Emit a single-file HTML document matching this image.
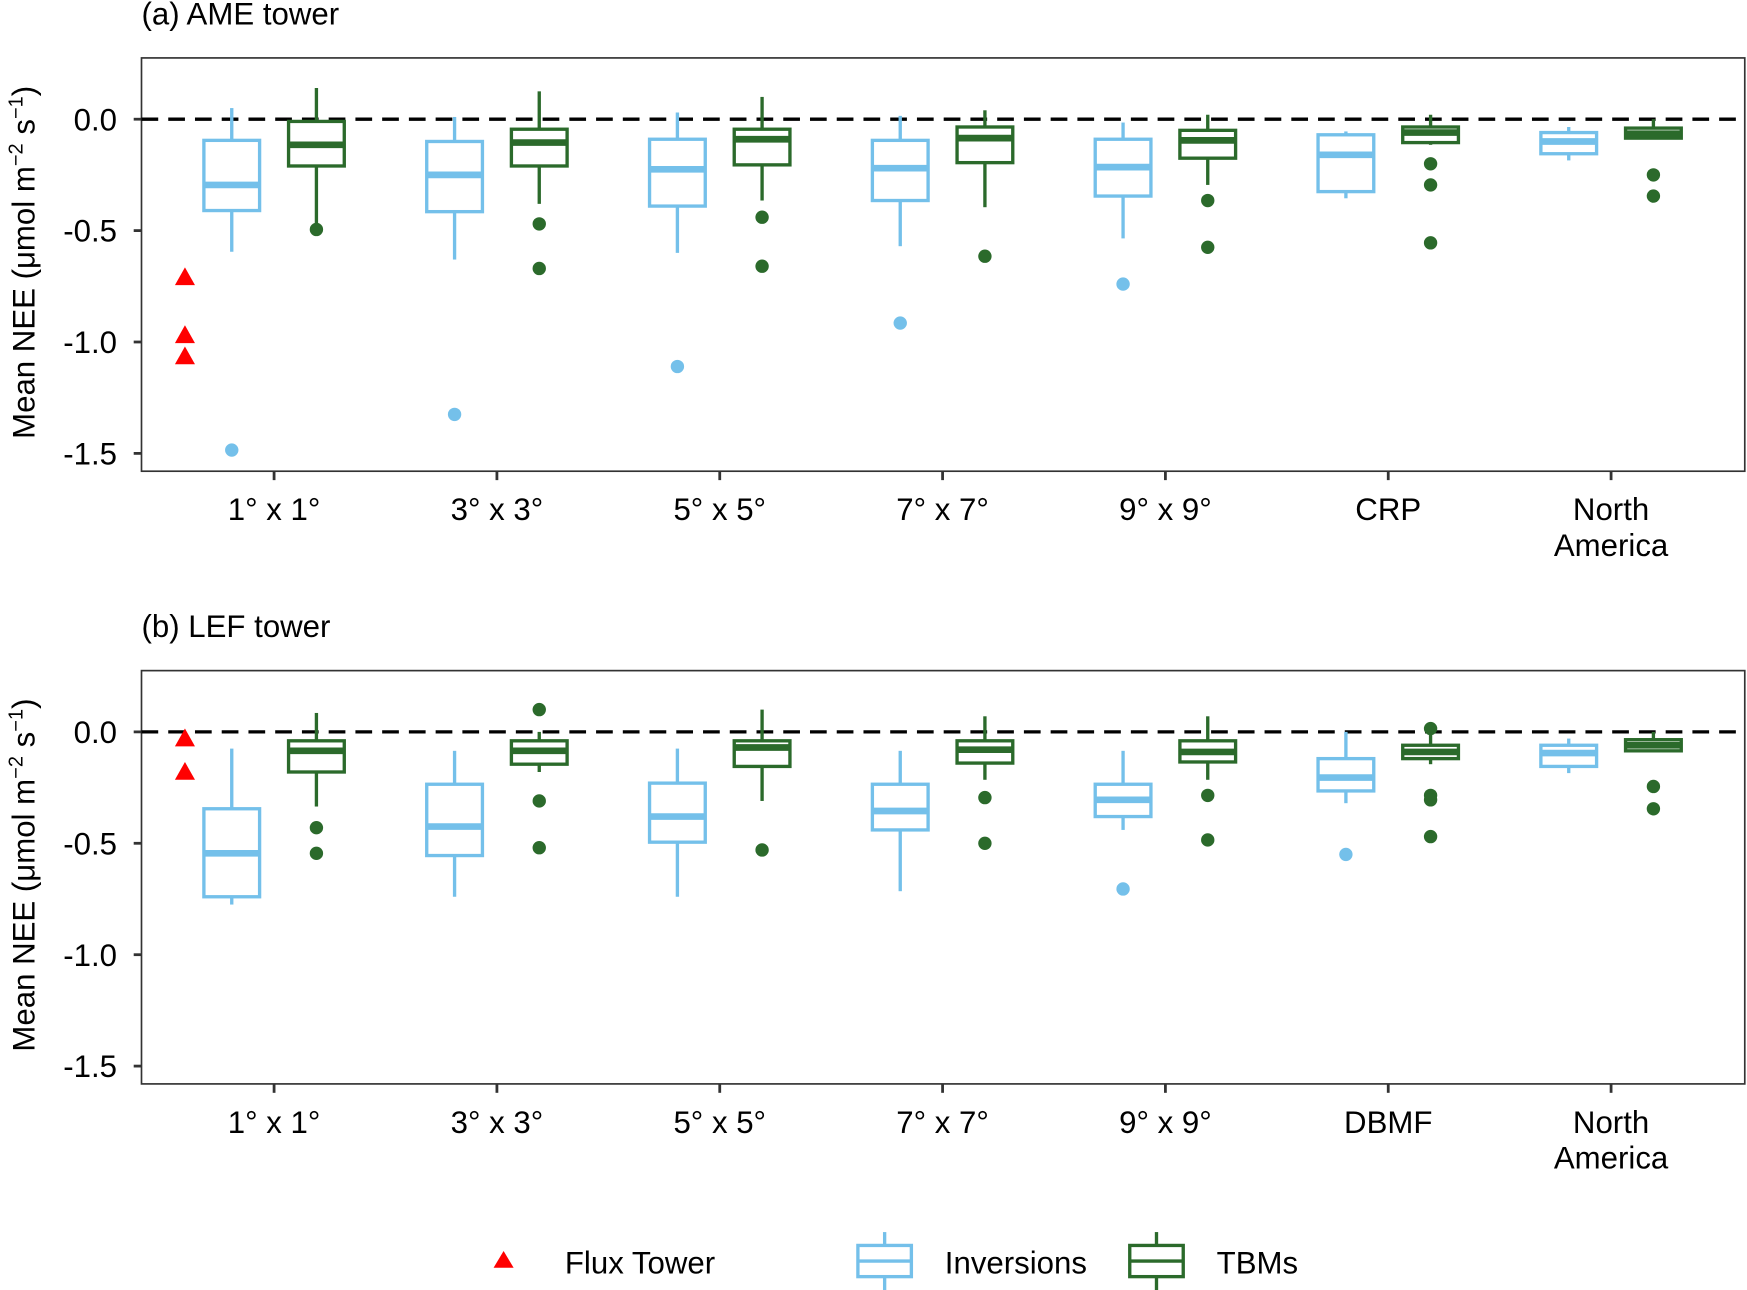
<!DOCTYPE html>
<html><head><meta charset="utf-8"><style>
html,body{margin:0;padding:0;background:#fff}
svg{display:block;font-family:"Liberation Sans",sans-serif}
</style></head><body>
<svg id="chart" width="1747" height="1290" viewBox="0 0 1568 1158" preserveAspectRatio="none" xmlns="http://www.w3.org/2000/svg">
<g id="root"></g>
<g>
  <polygon points="452,1123 443,1138 461,1138" fill="#ff0000"/>
  <text x="507" y="1143" font-size="28">Flux Tower</text>
  <g stroke="#74c0ea" stroke-width="3" fill="none">
    <line x1="794" y1="1106" x2="794" y2="1118"/><line x1="794" y1="1146" x2="794" y2="1158"/>
    <rect x="770" y="1118" width="48" height="28"/><line x1="770" y1="1132" x2="818" y2="1132"/>
  </g>
  <text x="848" y="1143" font-size="28">Inversions</text>
  <g stroke="#2b6a2b" stroke-width="3" fill="none">
    <line x1="1038" y1="1106" x2="1038" y2="1118"/><line x1="1038" y1="1146" x2="1038" y2="1158"/>
    <rect x="1014" y="1118" width="48" height="28"/><line x1="1014" y1="1132" x2="1062" y2="1132"/>
  </g>
  <text x="1092" y="1143" font-size="28">TBMs</text>
</g>
</svg>
<script>
const categoriesA = ["1° x 1°","3° x 3°","5° x 5°","7° x 7°","9° x 9°","CRP","North America"];
const categoriesB = ["1° x 1°","3° x 3°","5° x 5°","7° x 7°","9° x 9°","DBMF","North America"];
const yTicks = [0.0,-0.5,-1.0,-1.5];
const yTickLabels = ["0.0","-0.5","-1.0","-1.5"];
// [whiskerLow, q1, median, q3, whiskerHigh]
const invA = [[-0.595,-0.41,-0.295,-0.095,0.05],[-0.63,-0.415,-0.25,-0.1,0.01],[-0.6,-0.39,-0.225,-0.09,0.03],[-0.57,-0.365,-0.22,-0.095,0.015],[-0.535,-0.345,-0.215,-0.09,-0.015],[-0.355,-0.325,-0.16,-0.07,-0.055],[-0.185,-0.155,-0.1,-0.06,-0.035]];
const invAOut = [[-1.485],[-1.325],[-1.11],[-0.915],[-0.74],[],[]];
const tbmA = [[-0.48,-0.21,-0.115,-0.01,0.14],[-0.38,-0.21,-0.105,-0.045,0.125],[-0.365,-0.205,-0.09,-0.045,0.1],[-0.395,-0.195,-0.085,-0.035,0.04],[-0.295,-0.175,-0.095,-0.05,0.02],[-0.115,-0.105,-0.06,-0.035,0.02],[-0.09,-0.085,-0.065,-0.04,0.0]];
const tbmAOut = [[-0.495],[-0.47,-0.67],[-0.44,-0.66],[-0.615],[-0.365,-0.575],[-0.2,-0.295,-0.555],[-0.25,-0.345]];
const fluxA = [-0.71,-0.97,-1.065];
const invB = [[-0.775,-0.74,-0.545,-0.345,-0.075],[-0.74,-0.555,-0.425,-0.235,-0.085],[-0.74,-0.495,-0.38,-0.23,-0.075],[-0.715,-0.44,-0.355,-0.235,-0.085],[-0.44,-0.38,-0.305,-0.235,-0.085],[-0.32,-0.265,-0.205,-0.12,0.0],[-0.185,-0.155,-0.095,-0.06,-0.03]];
const invBOut = [[],[],[],[],[-0.705],[-0.55],[]];
const tbmB = [[-0.335,-0.18,-0.085,-0.04,0.085],[-0.18,-0.145,-0.085,-0.04,0.0],[-0.31,-0.155,-0.07,-0.04,0.1],[-0.215,-0.14,-0.08,-0.04,0.07],[-0.215,-0.135,-0.09,-0.04,0.07],[-0.145,-0.12,-0.09,-0.06,0.0],[-0.085,-0.085,-0.06,-0.035,0.0]];
const tbmBOut = [[-0.43,-0.545],[0.1,-0.31,-0.52],[-0.53],[-0.295,-0.5],[-0.285,-0.485],[0.015,-0.285,-0.305,-0.47],[-0.245,-0.345]];
const fluxB = [-0.03,-0.18];

const NS="http://www.w3.org/2000/svg";
const root=document.getElementById('root');
function mk(tag,attrs,parent){const e=document.createElementNS(NS,tag);for(const k in attrs)e.setAttribute(k,attrs[k]);(parent||root).appendChild(e);return e;}
const INV="#74c0ea", TBM="#2b6a2b";

function panel(id,title,top,cats,inv,invOut,tbm,tbmOut,flux){
  const g=mk('g',{});
  
  
  const L=127,R=1566,T=top,B=top+371, y0=top+55;
  const y=v=>y0-v*200;
  const x=i=>246+i*200;
  const t=mk('text',{x:127,y:top-30,'font-size':28},g);t.textContent=title;
  
  
  const frame=mk('rect',{x:L,y:T,width:R-L,height:B-T,fill:'none',stroke:'#333','stroke-width':1.5},g);
  
  
  yTicks.forEach((v,i)=>{
    mk('line',{x1:L-7,x2:L,y1:y(v),y2:y(v),stroke:'#333','stroke-width':2.5},g);
    const tl=mk('text',{x:L-22,y:y(v)+10,'font-size':28,'text-anchor':'end'},g);tl.textContent=yTickLabels[i];
    
    
  });
  cats.forEach((c,i)=>{
    mk('line',{x1:x(i),x2:x(i),y1:B,y2:B+8,stroke:'#333','stroke-width':2.5},g);
    const words=c==="North America"?["North","America"]:[c];
    words.forEach((w,j)=>{const tl=mk('text',{x:x(i),y:B+44+j*32,'font-size':28,'text-anchor':'middle'},g);tl.textContent=w;
      
      });
  });
  const yt=mk('text',{transform:`translate(31,${(T+B)/2-2}) rotate(-90)`,'font-size':28,'text-anchor':'middle'},g);
  yt.innerHTML='Mean NEE (μmol m<tspan dy="-11" font-size="18">−2</tspan><tspan dy="11"> s</tspan><tspan dy="-11" font-size="18">−1</tspan><tspan dy="11">)</tspan>';
  
  
  const zl=mk('line',{x1:L,x2:R,y1:y(0),y2:y(0),stroke:'#000','stroke-width':3,'stroke-dasharray':'15,9'},g);
  
  
  function box(cx,s,outs,col,name){
    const b=mk('g',{stroke:col,'stroke-width':3,fill:'none'},g);
    
    
    mk('line',{x1:cx,x2:cx,y1:y(s[4]),y2:y(s[3])},b);
    mk('line',{x1:cx,x2:cx,y1:y(s[1]),y2:y(s[0])},b);
    mk('rect',{x:cx-25,y:y(s[3]),width:50,height:Math.max(0.5,y(s[1])-y(s[3])),fill:'#fff'},b);
    mk('line',{x1:cx-25,x2:cx+25,y1:y(s[2]),y2:y(s[2]),'stroke-width':6},b);
    outs.forEach(o=>{const p=mk('circle',{cx:cx,cy:y(o),r:6,fill:col,stroke:'none'},g);
      
      });
  }
  cats.forEach((c,i)=>{box(x(i)-38,inv[i],invOut[i],INV,'inversions-box');box(x(i)+38,tbm[i],tbmOut[i],TBM,'tbms-box');});
  flux.forEach(v=>{const p=mk('polygon',{points:`166,${y(v)-9} 157,${y(v)+7} 175,${y(v)+7}`,fill:'#ff0000'},g);
    
    });
}
panel('panel-a-ame','(a) AME tower',52,categoriesA,invA,invAOut,tbmA,tbmAOut,fluxA);
panel('panel-b-lef','(b) LEF tower',602,categoriesB,invB,invBOut,tbmB,tbmBOut,fluxB);
</script>
</body></html>
